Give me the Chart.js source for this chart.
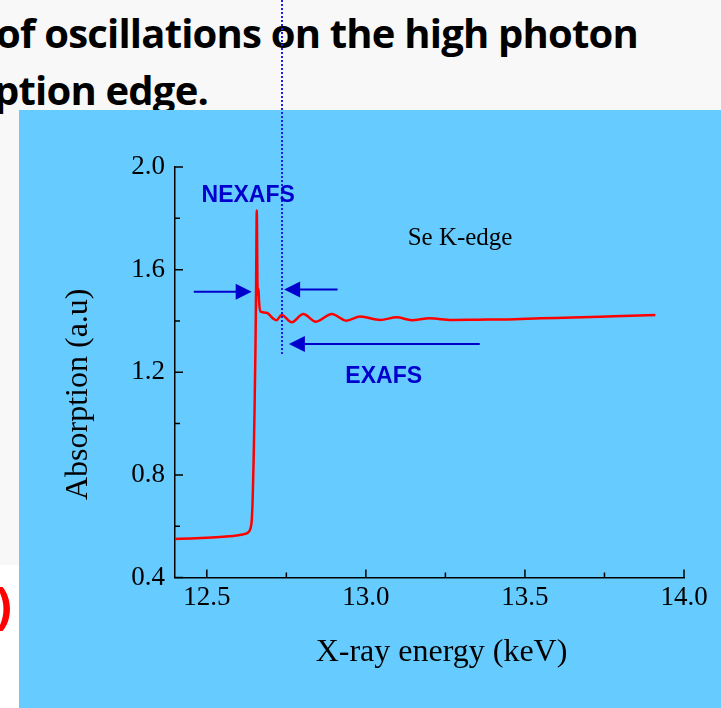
<!DOCTYPE html>
<html lang="en">
<head>
<meta charset="UTF-8">
<title>Se K-edge absorption</title>
<script src="https://cdn.jsdelivr.net/npm/chart.js"></script>
<style>
  html, body { margin: 0; padding: 0; }
  body { width: 721px; height: 708px; position: relative; overflow: hidden; background: #f8f8f8; }
  .line { position: absolute; font-family: "Open Sans", sans-serif; font-weight: 700; font-size: 40px; line-height: 50px; color: #000; white-space: nowrap; letter-spacing: -0.8px; }
  #l1 { top: 8px; left: -4px; }
  #l2 { top: 65px; left: -6px; }
  #strip { position: absolute; left: 0; top: 565px; width: 19px; height: 143px; background: #fff; }
  #paren { position: absolute; left: -5px; top: 574px; color: #f00; font-family: "Open Sans", sans-serif; font-weight: 700; font-size: 50px; line-height: 60px; }
  #panel { position: absolute; left: 19px; top: 110px; width: 702px; height: 598px; background: #66ccff; }
  #chart { position: absolute; left: 0; top: 0; }
</style>
</head>
<body>
  <div class="line" id="l1">of oscillations on the high photon</div>
  <div class="line" id="l2">ption edge.</div>
  <div id="strip"></div>
  <div id="paren">)</div>
  <div id="panel"></div>
  <canvas id="chart" width="721" height="708"></canvas>
  <script>
    // spectrum
    const energy = [12.40, 12.45, 12.50, 12.55, 12.60, 12.62, 12.63, 12.637, 12.641, 12.644,
      12.647, 12.650, 12.653, 12.655, 12.657, 12.6593, 12.661, 12.6625, 12.664, 12.669,
      12.688, 12.708, 12.719, 12.735, 12.767, 12.803, 12.843, 12.893, 12.938, 12.982,
      13.045, 13.097, 13.144, 13.20, 13.27, 13.35, 13.443, 13.55, 13.65, 13.78, 13.91];
    const absorption = [0.550, 0.552, 0.555, 0.559, 0.565, 0.570, 0.576, 0.590, 0.620, 0.700,
      0.850, 1.050, 1.300, 1.550, 1.830, 1.540, 1.500, 1.525, 1.480, 1.436,
      1.432, 1.410, 1.403, 1.423, 1.395, 1.427, 1.397, 1.427, 1.401, 1.417,
      1.404, 1.414, 1.403, 1.410, 1.404, 1.405, 1.406, 1.410, 1.413, 1.418, 1.423];

    const xTicks = [12.5, 13.0, 13.5, 14.0];
    const xMinor = [12.75, 13.25, 13.75];
    const yTicks = [0.4, 0.8, 1.2, 1.6, 2.0];
    const yMinor = [0.6, 1.0, 1.4, 1.8];

    // annotations, in data units: [from x, to x, y]
    const arrowNexafsIn = [12.459, 12.641, 1.514];
    const arrowExafsIn = [12.911, 12.743, 1.523];
    const arrowExafs = [13.358, 12.758, 1.310];
    const edgeMarker = { x: 12.736, bottom: 1.267 };
    const notes = [
      { text: 'NEXAFS', x: 12.63, y: 1.865, font: 'bold 23px "Liberation Sans", Arial, sans-serif', color: '#0000cc' },
      { text: 'EXAFS', x: 13.056, y: 1.16, font: 'bold 23px "Liberation Sans", Arial, sans-serif', color: '#0000cc' },
      { text: 'Se K-edge', x: 13.296, y: 1.696, font: '25px "Liberation Serif", "Times New Roman", serif', color: '#000' }
    ];

    const serif = '"Liberation Serif", "Times New Roman", serif';

    function arrow(ctx, x0, x1, y) {
      const dir = Math.sign(x1 - x0);
      ctx.beginPath();
      ctx.moveTo(x0, y);
      ctx.lineTo(x1 - dir * 14, y);
      ctx.stroke();
      ctx.beginPath();
      ctx.moveTo(x1, y);
      ctx.lineTo(x1 - dir * 16, y - 8);
      ctx.lineTo(x1 - dir * 16, y + 8);
      ctx.closePath();
      ctx.fill();
    }

    const decor = {
      id: 'decor',
      afterDraw(chart) {
        const { ctx, chartArea: a } = chart;
        const x = chart.scales.x, y = chart.scales.y;
        ctx.save();

        // inward tick marks
        ctx.strokeStyle = '#000';
        ctx.lineWidth = 1.5;
        ctx.beginPath();
        xTicks.forEach(v => { const p = x.getPixelForValue(v); ctx.moveTo(p, a.bottom); ctx.lineTo(p, a.bottom - 8); });
        xMinor.forEach(v => { const p = x.getPixelForValue(v); ctx.moveTo(p, a.bottom); ctx.lineTo(p, a.bottom - 5); });
        yTicks.forEach(v => { const p = y.getPixelForValue(v); ctx.moveTo(a.left, p); ctx.lineTo(a.left + 8, p); });
        yMinor.forEach(v => { const p = y.getPixelForValue(v); ctx.moveTo(a.left, p); ctx.lineTo(a.left + 5, p); });
        ctx.stroke();

        // dotted edge marker, runs up through the slide text
        const dx = Math.round(x.getPixelForValue(edgeMarker.x));
        ctx.strokeStyle = '#1e1ee6';
        ctx.lineWidth = 2;
        ctx.setLineDash([2, 2]);
        ctx.beginPath();
        ctx.moveTo(dx, 0);
        ctx.lineTo(dx, y.getPixelForValue(edgeMarker.bottom));
        ctx.stroke();
        ctx.setLineDash([]);

        // arrows
        ctx.strokeStyle = '#0000cc';
        ctx.fillStyle = '#0000cc';
        ctx.lineWidth = 2;
        [arrowNexafsIn, arrowExafsIn, arrowExafs].forEach(([f, t, v]) => {
          arrow(ctx, x.getPixelForValue(f), x.getPixelForValue(t), y.getPixelForValue(v));
        });

        // labels
        ctx.textAlign = 'center';
        ctx.textBaseline = 'alphabetic';
        notes.forEach(n => {
          ctx.font = n.font;
          ctx.fillStyle = n.color;
          ctx.fillText(n.text, x.getPixelForValue(n.x), y.getPixelForValue(n.y));
        });

        // axis titles
        ctx.fillStyle = '#000';
        ctx.font = '32px ' + serif;
        ctx.fillText('X-ray energy (keV)', (a.left + a.right) / 2 + 12, 661);
        ctx.save();
        ctx.translate(87, (a.top + a.bottom) / 2 + 22);
        ctx.rotate(-Math.PI / 2);
        ctx.fillText('Absorption (a.u)', 0, 0);
        ctx.restore();

        ctx.restore();
      }
    };

    const tickFont = { family: serif, size: 27 };

    new Chart(document.getElementById('chart'), {
      type: 'line',
      data: {
        datasets: [{
          data: energy.map((e, i) => ({ x: e, y: absorption[i] })),
          borderColor: '#ff0000',
          borderWidth: 2.5,
          pointRadius: 0,
          cubicInterpolationMode: 'monotone',
          fill: false
        }]
      },
      options: {
        responsive: false,
        animation: false,
        layout: { padding: { left: 0, top: 167, right: 37, bottom: 0 } },
        plugins: { legend: { display: false }, tooltip: { enabled: false } },
        scales: {
          x: {
            type: 'linear',
            min: 12.4,
            max: 14.0,
            afterBuildTicks: s => { s.ticks = xTicks.map(v => ({ value: v })); },
            afterFit: s => { s.height = 130.5; },
            grid: { display: false, drawTicks: false },
            border: { display: true, color: '#000', width: 1.5 },
            ticks: { font: tickFont, color: '#000', padding: 4, maxRotation: 0, callback: v => v.toFixed(1) }
          },
          y: {
            type: 'linear',
            min: 0.4,
            max: 2.0,
            afterBuildTicks: s => { s.ticks = yTicks.map(v => ({ value: v })); },
            afterFit: s => { s.width = 175; },
            grid: { display: false, drawTicks: false },
            border: { display: true, color: '#000', width: 1.5 },
            ticks: { font: tickFont, color: '#000', padding: 10, callback: v => v.toFixed(1) }
          }
        }
      },
      plugins: [decor]
    });
  </script>
</body>
</html>
